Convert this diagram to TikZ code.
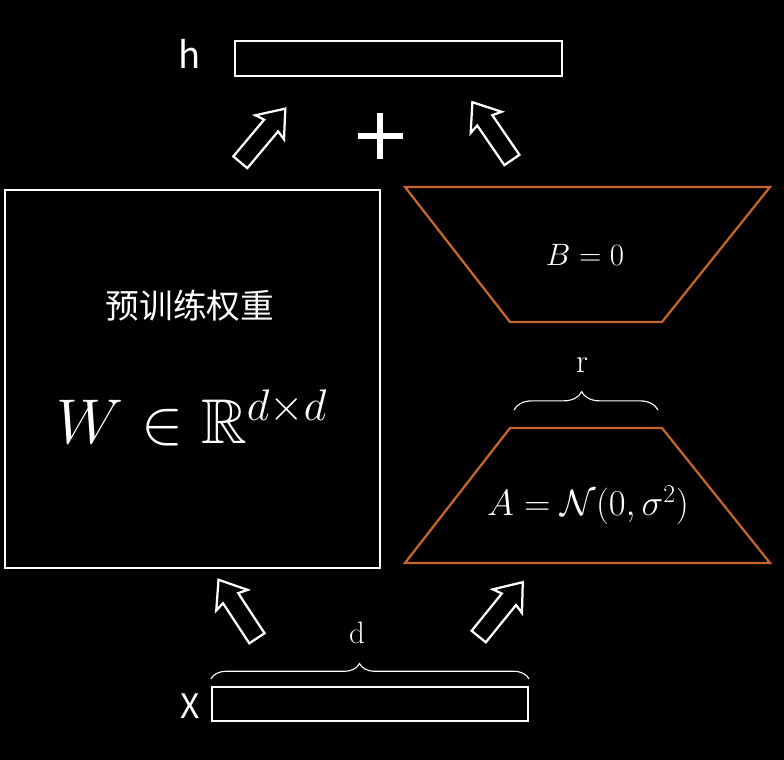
\RequirePackage{fix-cm}
\documentclass[tikz,border=0pt]{standalone}
\usepackage{amsmath,amssymb}
\usepackage{fontspec}
\newfontfamily\cjk{Noto Sans CJK SC}
\usepackage{tikz}
\usetikzlibrary{calc,shapes.arrows,decorations.pathreplacing}
\definecolor{loraorange}{RGB}{200,100,45}

\begin{document}
\begin{tikzpicture}[x=0.025cm, y=-0.025cm,
  wbox/.style={draw=white, line width=1.4pt, inner sep=0pt},
  lora/.style={draw=loraorange, line width=1.6pt, line join=miter},
  lbl/.style={text=white, font=\cjk\fontsize{24}{26}\selectfont},
  mth/.style={text=white, inner sep=0pt},
  fat/.style={single arrow, draw=white, line width=1.6pt, fill=black,
              inner xsep=0pt, inner ysep=0.2cm,
              minimum height=1.75cm, single arrow head extend=0.24cm,
              single arrow tip angle=75, single arrow head indent=0.06cm},
  brc/.style={draw=white, line width=0.8pt, decorate}]
\useasboundingbox (0,0) rectangle (784,760);
\fill[black] (0,0) rectangle (784,760);
% output h
\node[wbox, minimum width=8.175cm, minimum height=0.875cm] (hvec) at (398.5,58.5) {};
\node[lbl, font=\cjk\fontsize{26}{28}\selectfont] (hlab) at (190,54) {h};
\coordinate (plus) at (380,136);
\draw[white, line width=4.3pt] ($(plus)+(-22.5,0)$) -- ($(plus)+(22.5,0)$);
\draw[white, line width=4.3pt] ($(plus)+(0,-23)$) -- ($(plus)+(0,23)$);
\node[fat, rotate=50] (upL) at (259,140) {};
\node[fat, rotate=124.4] (upR) at (495.5,136) {};
% pretrained weights
\node[wbox, minimum width=9.375cm, minimum height=9.45cm] (W) at (192.5,379) {};
\node[lbl] (Wtxt) at (190,306) {预训练权重};
\node[mth, font=\fontsize{45}{50}\selectfont] (Wmath) at (192,418) {$W\in\mathbb{R}^{d\times d}$};
% low rank branch
\draw[lora] (405,187) -- (770,187) -- (662,322) -- (510,322) -- cycle;
\node[mth, font=\fontsize{22}{24}\selectfont] (B) at (585,255) {$B=0$};
\draw[lora] (510,428) -- (662,428) -- (770,563) -- (405,563) -- cycle;
\node[mth, font=\fontsize{26}{28}\selectfont] (A) at (588,505) {$A=\mathcal{N}(0,\sigma^2)$};
\draw[brc, decoration={brace, amplitude=13pt, aspect=0.47}] (514,410) -- (658,410);
\node[mth, font=\fontsize{24}{26}\selectfont] (r) at (582,365) {r};
% input x
\node[fat, rotate=123.3] (inL) at (241,614) {};
\node[fat, rotate=51] (inR) at (497,614) {};
\node[wbox, minimum width=7.9cm, minimum height=0.85cm] (xvec) at (370,704) {};
\node[lbl] (xlab) at (190.5,706.5) {X};
\draw[brc, decoration={brace, amplitude=11pt, aspect=0.467}] ($(xvec.north west)+(0,-7)$) -- ($(xvec.north east)+(0,-7)$);
\node[mth, font=\fontsize{22}{24}\selectfont] (d) at (357,633) {d};
\end{tikzpicture}
\end{document}
